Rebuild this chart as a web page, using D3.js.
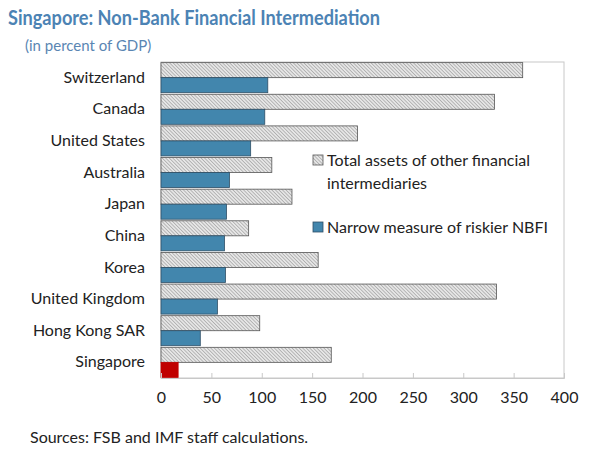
<!DOCTYPE html>
<html>
<head>
<meta charset="utf-8">
<script src="https://cdn.jsdelivr.net/npm/d3@7"></script>
<style>
	body { margin: 0; background: #fff; }
	text { font-family: Lato, "Open Sans", sans-serif; }
</style>
</head>
<body>
<div id="chart"></div>
<script>
// chart data
const countries = ['Switzerland', 'Canada', 'United States', 'Australia', 'Japan',
	'China', 'Korea', 'United Kingdom', 'Hong Kong SAR', 'Singapore'];
const totalAssets = [359, 331, 195, 110, 130, 87, 156, 333, 98, 169];
const narrowNbfi = [106, 103, 89, 68, 65, 63, 64, 56, 39, 17];
const xTicks = [0, 50, 100, 150, 200, 250, 300, 350, 400];

const config = {
	width: 612, height: 456,
	margin: {top: 62, right: 48, bottom: 78, left: 161}
};
const innerW = config.width - config.margin.left - config.margin.right;
const innerH = config.height - config.margin.top - config.margin.bottom;

const svg = d3.select('#chart').append('svg')
	.attr('width', config.width)
	.attr('height', config.height);

// hatch for the grey bars
const pattern = svg.append('defs').append('pattern')
	.attr('id', 'hatch')
	.attr('patternUnits', 'userSpaceOnUse')
	.attr('width', 2.5).attr('height', 2.5)
	.attr('patternTransform', 'rotate(-45)');
pattern.append('rect').attr('width', 2.5).attr('height', 2.5).attr('fill', '#e6e6e6');
pattern.append('line').attr('x1', 0).attr('y1', 0).attr('x2', 0).attr('y2', 2.5)
	.attr('stroke', '#888').attr('stroke-width', 1);

// titles
svg.append('text')
	.attr('x', 8).attr('y', 25)
	.style('font-size', '20px').style('font-weight', 'bold')
	.attr('fill', '#4c83b4')
	.attr('textLength', 372).attr('lengthAdjust', 'spacingAndGlyphs')
	.text('Singapore: Non-Bank Financial Intermediation');
svg.append('text')
	.attr('x', 25).attr('y', 51)
	.style('font-size', '15px')
	.attr('fill', '#5a86b3')
	.text('(in percent of GDP)');

const g = svg.append('g')
	.attr('transform', `translate(${config.margin.left},${config.margin.top})`);

const xScale = d3.scaleLinear().domain([0, 400]).range([0, innerW]);
const yScale = d3.scaleBand().domain(countries).range([0, innerH]).paddingInner(0.05).paddingOuter(0.02);
const subScale = d3.scaleBand().domain(['total', 'narrow']).range([0, yScale.bandwidth()]);

// frame
g.append('rect')
	.attr('width', innerW).attr('height', innerH)
	.attr('fill', 'none').attr('stroke', '#c8c8c8');

// bars
g.selectAll('.totalBar')
	.data(countries)
	.join('rect')
	.attr('class', 'totalBar')
	.attr('x', xScale(0))
	.attr('y', d => yScale(d) + subScale('total'))
	.attr('width', (d, i) => xScale(totalAssets[i]))
	.attr('height', subScale.bandwidth())
	.attr('fill', 'url(#hatch)')
	.attr('stroke', '#555').attr('stroke-width', 0.8);

g.selectAll('.narrowBar')
	.data(countries)
	.join('rect')
	.attr('class', 'narrowBar')
	.attr('x', xScale(0))
	.attr('y', d => yScale(d) + subScale('narrow'))
	.attr('width', (d, i) => xScale(narrowNbfi[i]))
	.attr('height', subScale.bandwidth())
	.attr('fill', d => d === 'Singapore' ? '#c00000' : '#4286ad')
	.attr('stroke', d => d === 'Singapore' ? '#c00000' : '#2f4f66').attr('stroke-width', 0.8);

// x axis: inward ticks, labels below
const xAxis = d3.axisBottom(xScale).tickValues(xTicks).tickSize(-5).tickPadding(14);
const xg = g.append('g')
	.attr('transform', `translate(0,${innerH})`)
	.call(xAxis);
xg.select('.domain').attr('stroke', '#c8c8c8');
xg.selectAll('.tick line').attr('stroke', '#c8c8c8');
xg.selectAll('.tick text')
	.style('font-size', '16px').attr('fill', '#222');

// category labels
const yAxis = d3.axisLeft(yScale).tickSize(0).tickPadding(16);
const yg = g.append('g').call(yAxis);
yg.select('.domain').remove();
yg.selectAll('.tick text')
	.style('font-size', '16px').attr('fill', '#222');

// legend
const legend = svg.append('g').attr('transform', 'translate(313,155)');
legend.append('rect').attr('x', 0).attr('y', 0).attr('width', 10).attr('height', 10)
	.attr('fill', 'url(#hatch)').attr('stroke', '#555').attr('stroke-width', 0.8);
legend.append('text').attr('x', 14).attr('y', 11)
	.style('font-size', '16px').attr('fill', '#222')
	.text('Total assets of other financial');
legend.append('text').attr('x', 14).attr('y', 34)
	.style('font-size', '16px').attr('fill', '#222')
	.text('intermediaries');
legend.append('rect').attr('x', 0).attr('y', 67).attr('width', 10).attr('height', 10)
	.attr('fill', '#4286ad').attr('stroke', '#2f4f66').attr('stroke-width', 0.8);
legend.append('text').attr('x', 14).attr('y', 78)
	.style('font-size', '16px').attr('fill', '#222')
	.text('Narrow measure of riskier NBFI');

// source note
svg.append('text')
	.attr('x', 30).attr('y', 443)
	.style('font-size', '16px').attr('fill', '#222')
	.text('Sources: FSB and IMF staff calculations.');
</script>
</body>
</html>
